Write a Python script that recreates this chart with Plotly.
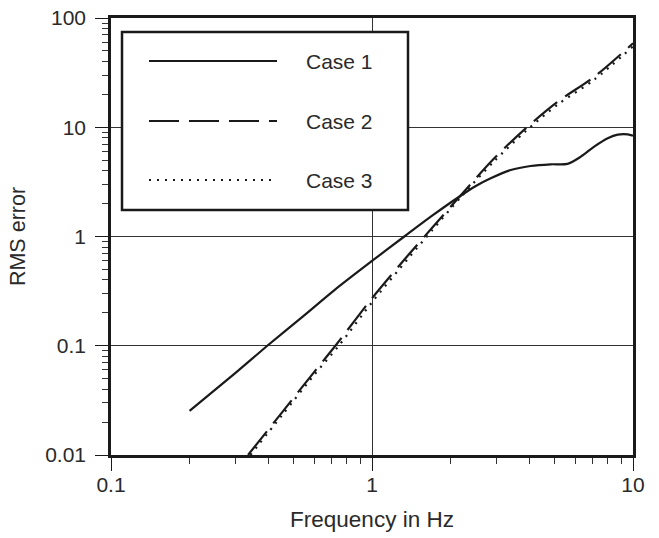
import plotly.graph_objects as go

# ---- data ----
case1_f = [0.2, 0.3, 0.397, 0.55, 0.72, 1.0, 1.33, 1.7, 2.15, 2.5, 2.85, 3.40, 4.05, 4.84, 5.61, 6.31, 7.10, 8.0, 8.74, 9.55, 10.0]
case1_v = [0.0253, 0.0565, 0.1, 0.19, 0.325, 0.597, 1.0, 1.55, 2.3, 2.9, 3.41, 4.06, 4.42, 4.58, 4.62, 5.38, 6.64, 7.92, 8.55, 8.6, 8.37]

case2_f = [0.335, 0.45, 0.6, 0.724, 1.0, 1.38, 1.7, 2.22, 2.94, 3.88, 5.14, 7.11, 10.0]
case2_v = [0.01, 0.0242, 0.0574, 0.1, 0.272, 0.68, 1.2, 2.48, 5.2, 9.78, 17.1, 29.0, 58.6]

case3_f = [0.342, 0.45, 0.6, 0.746, 1.0, 1.38, 1.7, 2.22, 2.94, 3.88, 5.14, 7.11, 10.0]
case3_v = [0.01, 0.0228, 0.054, 0.1, 0.25, 0.635, 1.14, 2.38, 4.9, 9.2, 16.1, 27.3, 55.0]

series_names = ["Case 1", "Case 2", "Case 3"]
x_tickvals = [0.1, 1, 10]
x_ticktext = ["0.1", "1", "10"]
y_tickvals = [0.01, 0.1, 1, 10, 100]
y_ticktext = ["0.01", "0.1", "1", "10", "100"]

FONT = "Liberation Sans, Arial, sans-serif"
TXT = "#2a2a2a"

fig = go.Figure()
styles = [
    dict(color="#1a1a1a", width=2.2, dash="solid"),
    dict(color="#1a1a1a", width=2.2, dash="30px,10px"),
    dict(color="#1a1a1a", width=2.2, dash="2px,6px"),
]
for name, fx, fy, st in zip(series_names, [case1_f, case2_f, case3_f], [case1_v, case2_v, case3_v], styles):
    fig.add_trace(go.Scatter(x=fx, y=fy, mode="lines", name=name, line=dict(shape="spline", smoothing=0.8, **st),
                             showlegend=False, cliponaxis=True))

axis_common = dict(
    type="log", automargin=False,
    showline=True, linecolor="#1a1a1a", linewidth=2.5, mirror=True,
    showgrid=True, gridcolor="#333333", gridwidth=1,
    ticks="outside", ticklen=13, tickwidth=1.2, tickcolor="#1a1a1a",
    tickfont=dict(family=FONT, size=21, color=TXT),
    minor=dict(ticks="outside", ticklen=6, tickwidth=1, tickcolor="#333333", showgrid=False, dtick="D1"),
    zeroline=False,
)

fig.update_xaxes(range=[-1, 1], tickvals=x_tickvals, ticktext=x_ticktext,
                 title=dict(text="Frequency in Hz", font=dict(family=FONT, size=22.5, color=TXT), standoff=17),
                 ticklabelstandoff=-4, **axis_common)
fig.update_yaxes(range=[-2, 2], tickvals=y_tickvals, ticktext=y_ticktext,
                 title=dict(text="RMS error", font=dict(family=FONT, size=21.5, color=TXT), standoff=14),
                 ticklabelstandoff=5, **axis_common)

# ---- legend box drawn in paper coordinates ----
L, R, T, B = 111, 633, 18, 455
W, H = R - L, B - T
def px(x):
    return (x - L) / W
def py(y):
    return (B - y) / H

fig.add_shape(type="rect", xref="paper", yref="paper", x0=px(122), x1=px(408), y0=py(210), y1=py(32),
              line=dict(color="#1a1a1a", width=2.5), fillcolor="white", layer="above")
leg_y = [61, 121, 180]
for name, st, yy in zip(series_names, styles, leg_y):
    fig.add_shape(type="line", xref="paper", yref="paper", x0=px(149), x1=px(277), y0=py(yy), y1=py(yy),
                  line=dict(color=st["color"], width=st["width"], dash=st["dash"]), layer="above")
    fig.add_annotation(xref="paper", yref="paper", x=px(304), y=py(yy), text=name, showarrow=False,
                       xanchor="left", yanchor="middle", font=dict(family=FONT, size=21, color=TXT))

fig.update_layout(
    width=659, height=538,
    margin=dict(l=L, r=659 - R, t=T, b=538 - B),
    paper_bgcolor="white", plot_bgcolor="white",
    font=dict(family=FONT, color=TXT),
)

fig.write_html("out.html")
